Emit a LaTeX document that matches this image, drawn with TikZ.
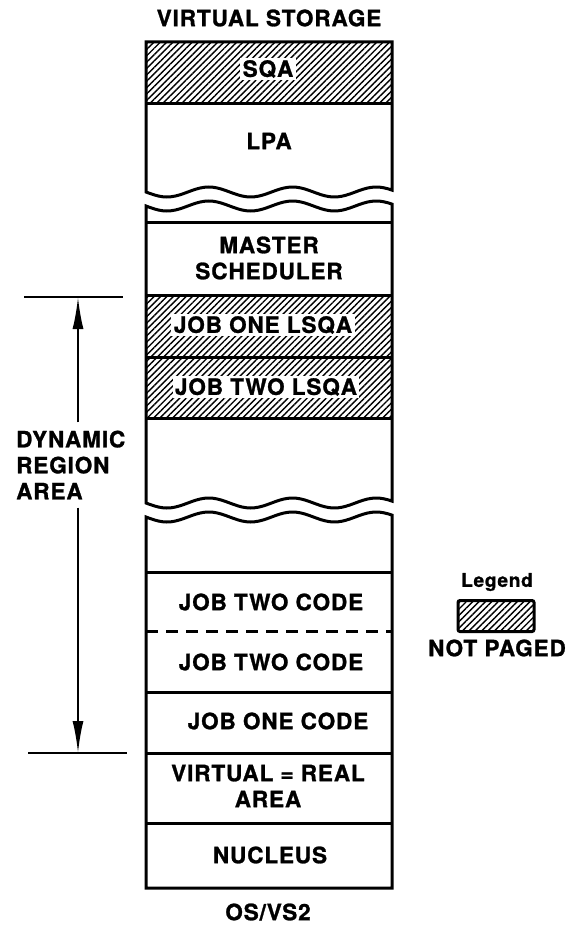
\documentclass[tikz,border=0pt]{standalone}
\usepackage{fontspec}
\setmainfont{TeX Gyre Heros}[LetterSpace=4, BoldFeatures={FakeBold=1.2}]
\usetikzlibrary{patterns.meta, arrows.meta, positioning}

\tikzset{
  wall/.style={line width=3pt},
  notpaged/.style={pattern={Lines[angle=45,distance=4.5pt,line width=1.4pt]}},
  lbl/.style={font=\bfseries\fontsize{22.5}{26}\selectfont, align=center, inner sep=2pt},
  whitelbl/.style={lbl, fill=white, inner sep=2.5pt},
  dimarrow/.style={line width=2.2pt, -{Latex[length=32pt,width=11pt]}},
}
\newcommand{\wave}[1]{#1+5*sin((\x-146)*4.3)}

\begin{document}
\begin{tikzpicture}[x=1pt, y=-1pt]
    \useasboundingbox (0,0) rectangle (585,928);

    % Hatched (not paged) parts
    \fill[notpaged] (146,42) rectangle (392,104);
    \fill[notpaged] (146,295) rectangle (392,418);

    % Upper piece: SQA and LPA
    \draw[wall] (146,42) -- plot[domain=146:392, samples=60, smooth] (\x, {\wave{192}}) -- (392,42) -- cycle;
    \draw[wall] (146,104) -- (392,104);

    % Middle piece
    \draw[wall] plot[domain=146:392, samples=60, smooth] (\x, {\wave{206}})
        -- plot[domain=392:146, samples=60, smooth] (\x, {\wave{503}}) -- cycle;
    \foreach \y in {222, 295, 357, 418}
        \draw[wall] (146,\y) -- (392,\y);

    % Lower piece
    \draw[wall] plot[domain=146:392, samples=60, smooth] (\x, {\wave{517}}) -- (392,888) -- (146,888) -- cycle;
    \foreach \y in {572, 692, 753, 823}
        \draw[wall] (146,\y) -- (392,\y);
    \draw[wall, dash pattern=on 12pt off 8pt] (146,631) -- (392,631);

    % Labels
    \node[lbl] (title) at (269,18) {VIRTUAL STORAGE};
    \node[whitelbl] (sqa) at (268,69) {SQA};
    \node[lbl] (lpa) at (269,141) {LPA};
    \node[lbl] (master) at (269,258) {MASTER\\SCHEDULER};
    \node[whitelbl] (lsqaone) at (263,325) {JOB ONE LSQA};
    \node[whitelbl] (lsqatwo) at (266,387) {JOB TWO LSQA};
    \node[lbl] (codetwoa) at (271,602) {JOB TWO CODE};
    \node[lbl] (codetwob) at (271,662) {JOB TWO CODE};
    \node[lbl] (codeone) at (278,721) {JOB ONE CODE};
    \node[lbl] (vreal) at (268,786) {VIRTUAL = REAL\\AREA};
    \node[lbl] (nucleus) at (270,855) {NUCLEUS};
    \node[lbl] (osvs) at (268,912) {OS/VS2};

    % Dynamic region dimension
    \coordinate (dtop) at (78,297);
    \coordinate (dbot) at (78,753);
    \draw[line width=2.2pt] (24,297) -- (123,297);
    \draw[line width=2.2pt] (28,753) -- (127,753);
    \node[lbl, align=left, anchor=west] (dyn) at (14,465) {DYNAMIC\\REGION\\AREA};
    \draw[dimarrow] ([yshift=6pt]dyn.north -| dtop) -- (dtop);
    \draw[dimarrow] ([yshift=-6pt]dyn.south -| dbot) -- (dbot);

    % Legend
    \node[lbl, font=\bfseries\fontsize{19}{22}\selectfont] (legend) at (497,582) {Legend};
    \node[wall, draw, notpaged, rounded corners=2pt, minimum width=76pt, minimum height=31pt] (key) at (496,616) {};
    \node[lbl] (notpg) at (497,648) {NOT PAGED};
\end{tikzpicture}
\end{document}
